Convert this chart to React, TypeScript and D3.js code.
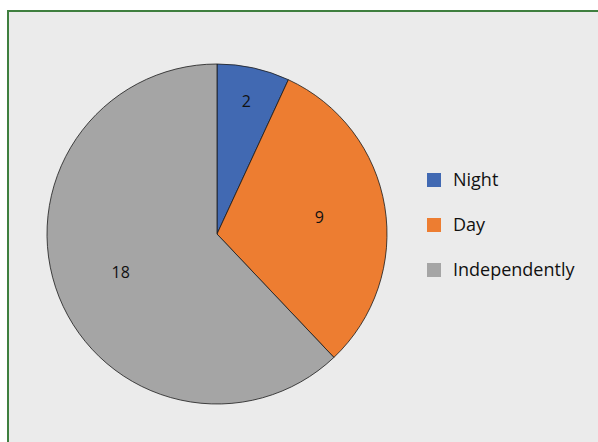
import React from "react";
import * as d3 from "d3";

const categories = ["Night", "Day", "Independently"];
const values = [2, 9, 18];
const colors = ["#4169B2", "#ED7D31", "#A5A5A5"];

const W = 598;
const H = 442;
const cx = 217;
const cy = 234;
const R = 170;

export default function App() {
  const pie = d3.pie<number>().sort(null).value((d) => d);
  const arcs = pie(values);
  const arc = d3.arc<d3.PieArcDatum<number>>().innerRadius(0).outerRadius(R);
  const labelArc = (d: d3.PieArcDatum<number>) => {
    const frac = (d.endAngle - d.startAngle) / (2 * Math.PI);
    const lr = frac < 0.1 ? R * 0.8 : R * 0.61;
    return d3.arc<d3.PieArcDatum<number>>().innerRadius(lr).outerRadius(lr).centroid(d);
  };
  const legendY = d3.scalePoint<string>().domain(categories).range([180, 270]);
  const font = "'Open Sans', 'Noto Sans', sans-serif";
  return (
    <svg width={W} height={H} style={{ position: "absolute", left: 0, top: 0 }} fontFamily={font}>
      <rect x={0} y={0} width={W} height={H} fill="#ffffff" />
      <rect x={8} y={11} width={640} height={480} fill="#ebebeb" stroke="#3f7f3f" strokeWidth={2} />
      <g transform={`translate(${cx},${cy})`}>
        {arcs.map((a, i) => (
          <path key={i} d={arc(a) || ""} fill={colors[i]} stroke="#1a1a1a" strokeWidth={0.8} />
        ))}
        {arcs.map((a, i) => {
          const [x, y] = labelArc(a);
          return (
            <text key={i} x={x} y={y} dy="0.35em" textAnchor="middle" fontSize={16} fill="#111">
              {values[i]}
            </text>
          );
        })}
      </g>
      {categories.map((c, i) => (
        <g key={c} transform={`translate(427,${legendY(c)})`}>
          <rect x={0} y={-7} width={14} height={14} fill={colors[i]} />
          <text x={26} y={0} dy="0.35em" fontSize={18} fill="#111">
            {c}
          </text>
        </g>
      ))}
    </svg>
  );
}
